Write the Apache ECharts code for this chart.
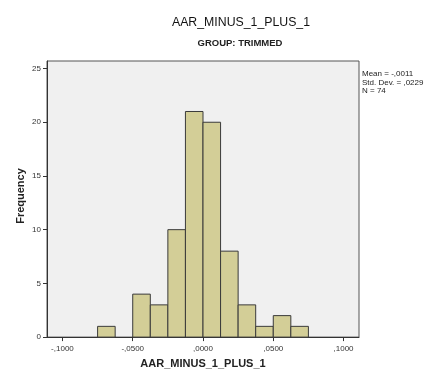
<!DOCTYPE html>
<html>
<head>
<meta charset="utf-8">
<script src="https://cdn.jsdelivr.net/npm/echarts@6/dist/echarts.min.js"></script>
<style>
  html, body { margin: 0; padding: 0; background: #ffffff; }
  #chart { width: 441px; height: 374px; }
</style>
</head>
<body>
<div id="chart"></div>
<script>
// Histogram bins (left edge, right edge) and frequency counts
const binStart = [-0.075, -0.0625, -0.05, -0.0375, -0.025, -0.0125, 0, 0.0125, 0.025, 0.0375, 0.05, 0.0625];
const binEnd   = [-0.0625, -0.05, -0.0375, -0.025, -0.0125, 0, 0.0125, 0.025, 0.0375, 0.05, 0.0625, 0.075];
const counts   = [1, 0, 4, 3, 10, 21, 20, 8, 3, 1, 2, 1];

const xTicks = [-0.1, -0.05, 0, 0.05, 0.1];
const yTicks = [0, 5, 10, 15, 20, 25];
const statsLines = ['Mean = -,0011', 'Std. Dev. = ,0229', 'N = 74'];

// Comma decimal format with 4 digits, leading zero dropped
function fmtX(v) {
  const s = Math.abs(v).toFixed(4).replace(/^0/, '').replace('.', ',');
  return (v < 0 ? '-' : '') + s;
}

const data = binStart.map((s, i) => [s, binEnd[i], counts[i]]);

const chart = echarts.init(document.getElementById('chart'), null, { renderer: 'canvas' });
chart.setOption({
  animation: false,
  backgroundColor: '#ffffff',
  graphic: [
    {
      type: 'text', x: 241, y: 17,
      style: {
        text: 'AAR_MINUS_1_PLUS_1', align: 'center', verticalAlign: 'top',
        font: '12.3px "Liberation Sans", Arial, sans-serif', fill: '#111'
      }
    },
    {
      type: 'text', x: 240, y: 38,
      style: {
        text: 'GROUP: TRIMMED', align: 'center', verticalAlign: 'top',
        font: 'bold 9.5px "Liberation Sans", Arial, sans-serif', fill: '#222'
      }
    },
    {
      type: 'text', x: 20.5, y: 196, rotation: Math.PI / 2,
      style: {
        text: 'Frequency', align: 'center', verticalAlign: 'middle',
        font: 'bold 11px "Liberation Sans", Arial, sans-serif', fill: '#222'
      }
    },
    {
      type: 'text', x: 362, y: 70,
      style: {
        text: statsLines.join('\n'),
        font: '8px "Liberation Sans", Arial, sans-serif',
        fill: '#222', lineHeight: 8.5
      }
    }
  ],
  grid: {
    left: 47, right: 82, top: 61, bottom: 33,
    show: true, backgroundColor: '#f0f0f0', borderColor: '#555', borderWidth: 1
  },
  xAxis: {
    type: 'value',
    min: -0.111, max: 0.111,
    name: 'AAR_MINUS_1_PLUS_1',
    nameLocation: 'middle', nameGap: 20,
    nameTextStyle: { fontFamily: 'Liberation Sans, Arial, sans-serif', fontSize: 11, fontWeight: 'bold', color: '#222' },
    axisLine: { show: true, onZero: false, lineStyle: { color: '#333', width: 1 } },
    axisTick: { show: true, length: 4, customValues: xTicks, lineStyle: { color: '#333' } },
    axisLabel: {
      customValues: xTicks, formatter: fmtX, margin: 8,
      fontFamily: 'Liberation Sans, Arial, sans-serif', fontSize: 8, color: '#333'
    },
    splitLine: { show: false }
  },
  yAxis: {
    type: 'value',
    min: 0, max: 25.7,
    axisLine: { show: true, onZero: false, lineStyle: { color: '#333', width: 1 } },
    axisTick: { show: true, length: 4, customValues: yTicks, lineStyle: { color: '#333' } },
    axisLabel: {
      customValues: yTicks, margin: 6,
      fontFamily: 'Liberation Sans, Arial, sans-serif', fontSize: 8, color: '#333'
    },
    splitLine: { show: false }
  },
  series: [{
    type: 'custom',
    data: data,
    encode: { x: [0, 1], y: 2 },
    renderItem: function (params, api) {
      const h = api.value(2);
      if (!h) return null;
      const p0 = api.coord([api.value(0), 0]);
      const p1 = api.coord([api.value(1), h]);
      return {
        type: 'rect',
        shape: { x: p0[0], y: p1[1], width: p1[0] - p0[0], height: p0[1] - p1[1] },
        style: { fill: '#d3ce97', stroke: '#3a3a3a', lineWidth: 1 }
      };
    }
  }]
});
</script>
</body>
</html>
